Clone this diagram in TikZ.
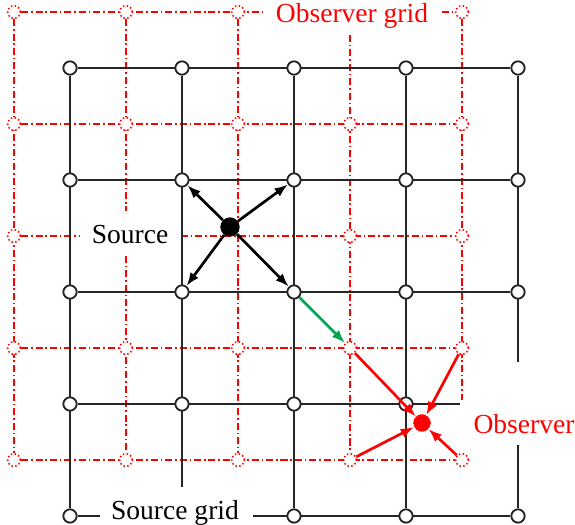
\documentclass[tikz,border=0pt]{standalone}
\usepackage{fontspec}
\setmainfont{Liberation Serif}
\usetikzlibrary{positioning, arrows.meta, backgrounds}
\definecolor{linkgreen}{RGB}{0,166,81}
\tikzset{
    srcnode/.style={circle, draw=black!85, fill=white, line width=1.6pt, minimum size=0.4cm, inner sep=0pt},
    obsnode/.style={circle, draw=red, fill=white, dotted, line width=1.3pt, minimum size=0.38cm, inner sep=0pt},
    srcline/.style={draw=black!85, line width=1.9pt},
    obsline/.style={draw=red, line width=1.4pt, dash pattern=on 6pt off 2.5pt on 1.3pt off 2.5pt},
    link/.style={-{Latex[length=4mm, width=3mm]}, line width=2.3pt},
    tag/.style={font=\fontsize{23.5}{28}\selectfont, inner sep=0pt, anchor=base}
}

\begin{document}
\begin{tikzpicture}[x=0.03cm, y=-0.03cm]
\useasboundingbox (0,0) rectangle (575,525);

% --- Observer grid (red), three points left out ---
\foreach \i in {0,...,4}
  \foreach \j in {0,...,4} {
    \pgfmathtruncatemacro{\hide}{(\i==3 && \j==0) || (\j==2 && \i>0 && \i<3)}
    \ifnum\hide=1
      \coordinate (o-\i-\j) at (14+112*\i, 12+112*\j);
    \else
      \node[obsnode] (o-\i-\j) at (14+112*\i, 12+112*\j) {};
    \fi
  }

% --- Source grid (black), two points left out ---
\foreach \i in {0,...,4}
  \foreach \j in {0,...,4} {
    \pgfmathtruncatemacro{\hide}{(\i==1 && \j==4) || (\i==4 && \j==3)}
    \ifnum\hide=1
      \coordinate (s-\i-\j) at (70+112*\i, 68+112*\j);
    \else
      \node[srcnode] (s-\i-\j) at (70+112*\i, 68+112*\j) {};
    \fi
  }

% --- Labels ---
\node[tag, text=red] (obs-grid) at (352,22) {Observer grid};
\node[tag] (src-lbl) at (130,243) {Source};
\node[tag, text=red] (obs-lbl) at (524,433) {Observer};
\node[tag] (src-grid) at (175,519) {Source grid};

% free ends where the lines break for the labels
\coordinate (og-a) at (263,12);
\coordinate (og-b) at (442,12);
\coordinate (og-c) at (350,35);
\coordinate (os-a) at (80,236);
\coordinate (os-b) at (181,236);
\coordinate (os-c) at (126,211);
\coordinate (os-d) at (126,256);
\coordinate (oo-a) at (462,400);
\coordinate (sg-a) at (100,516);
\coordinate (sg-b) at (253,516);
\coordinate (sg-c) at (182,487);
\coordinate (so-a) at (460,404);
\coordinate (so-b) at (518,362);
\coordinate (so-c) at (518,445);

\begin{scope}[on background layer]
% red lines
\draw[obsline] (o-0-0) -- (og-a);
\draw[obsline] (og-b) -- (o-4-0);
\foreach \j in {1,3,4}
  \draw[obsline] (o-0-\j) -- (o-4-\j);
\draw[obsline] (o-0-2) -- (os-a);
\draw[obsline] (os-b) -- (o-4-2);
\foreach \i in {0,2}
  \draw[obsline] (o-\i-0) -- (o-\i-4);
\draw[obsline] (o-1-0) -- (os-c);
\draw[obsline] (os-d) -- (o-1-4);
\draw[obsline] (og-c) -- (o-3-4);
\draw[obsline] (o-4-0) -- (oo-a);

% black lines
\foreach \j in {0,1,2}
  \draw[srcline] (s-0-\j) -- (s-4-\j);
\draw[srcline] (s-0-3) -- (so-a);
\draw[srcline] (s-0-4) -- (sg-a);
\draw[srcline] (sg-b) -- (s-4-4);
\foreach \i in {0,2,3}
  \draw[srcline] (s-\i-0) -- (s-\i-4);
\draw[srcline] (s-1-0) -- (sg-c);
\draw[srcline] (s-4-0) -- (so-b);
\draw[srcline] (so-c) -- (s-4-4);
\end{scope}

% --- Source and observer points ---
\node[circle, fill=black, minimum size=0.58cm, inner sep=0pt] (src) at (230,227) {};
\node[circle, fill=red, draw=red, densely dotted, line width=1pt, minimum size=0.5cm, inner sep=0pt] (obs) at (422,423) {};

% --- Arrows ---
\foreach \t in {s-1-1, s-2-1, s-1-2, s-2-2}
  \draw[link] (src) -- (\t);
\draw[link, linkgreen] (s-2-2) -- (o-3-3);
\foreach \f in {o-3-3, o-4-3, o-3-4, o-4-4}
  \draw[link, red] (\f) -- (obs);

\end{tikzpicture}
\end{document}
